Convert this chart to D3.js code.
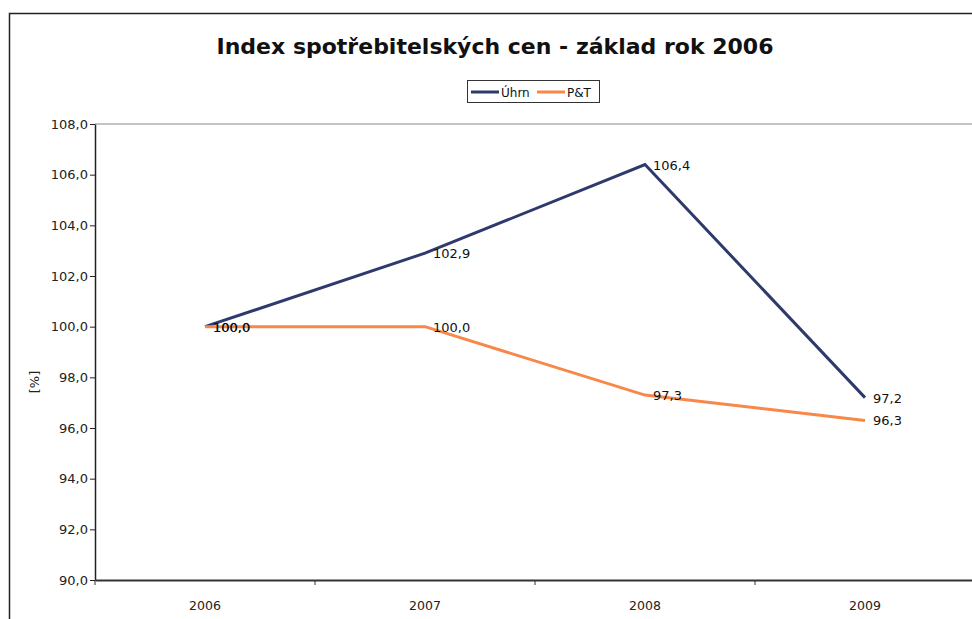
<!DOCTYPE html>
<html>
<head>
<meta charset="utf-8">
<script src="https://cdn.jsdelivr.net/npm/d3@7"></script>
<style>
html,body{margin:0;padding:0;background:#fff;}
svg{display:block;}
</style>
</head>
<body>
<svg id="chart" width="972" height="619"></svg>
<script>
const years = ["2006", "2007", "2008", "2009"];
const uhrn = [100.0, 102.9, 106.4, 97.2];
const pt = [100.0, 100.0, 97.3, 96.3];
const yTicks = [90, 92, 94, 96, 98, 100, 102, 104, 106, 108];
const seriesNames = ["Úhrn", "P&T"];
const seriesColors = ["#2f3a6c", "#f7884a"];

(function () {
const svg = d3.select("#chart");
const fmt = d3.formatLocale({decimal: ",", thousands: " ", grouping: [3], currency: ["", ""]}).format(".1f");
const font = "'DejaVu Sans', Verdana, sans-serif";

// outer chart border (cropped scan)
svg.append("path").attr("d", "M9.5,619 V13.5 H972").attr("fill", "none").attr("stroke", "#222").attr("stroke-width", 1.5);

const pLeft = 95, pTop = 124, pBottom = 580, pRight = 975;
const x = d3.scaleBand().domain(years).range([pLeft, pRight]);
const y = d3.scaleLinear().domain([90, 108]).range([pBottom, pTop]);

// top border of plot area
svg.append("line").attr("x1", pLeft).attr("x2", 972).attr("y1", y(108)).attr("y2", y(108))
  .attr("stroke", "#888").attr("stroke-width", 1);

// title
svg.append("text").attr("x", 495).attr("y", 54).attr("text-anchor", "middle")
  .attr("font-family", font).attr("font-weight", "bold").attr("font-size", 22).attr("fill", "#111")
  .text("Index spotřebitelských cen - základ rok 2006");

// y axis
const yAxis = svg.append("g").attr("transform", `translate(${pLeft},0)`)
  .call(d3.axisLeft(y).tickValues(yTicks).tickFormat(fmt).tickSize(5).tickSizeOuter(0));
yAxis.select(".domain").attr("stroke", "#222").attr("stroke-width", 1.5);
yAxis.selectAll(".tick line").attr("stroke", "#222");
yAxis.selectAll("text").attr("font-family", font).attr("font-size", 13).attr("fill", "#222").attr("x", -7);

// x axis
const xAxis = svg.append("g").attr("transform", `translate(0,${pBottom})`)
  .call(d3.axisBottom(x).tickSize(0).tickSizeOuter(0));
xAxis.select(".domain").attr("stroke", "#333").attr("stroke-width", 2);
xAxis.selectAll("text").attr("font-family", font).attr("font-size", 12.5).attr("fill", "#222").attr("dy", "0").attr("y", 30);
// category boundary ticks
svg.append("g").selectAll("line").data(years).join("line")
  .attr("x1", d => x(d)).attr("x2", d => x(d)).attr("y1", pBottom).attr("y2", pBottom + 5)
  .attr("stroke", "#333");

// y axis title
svg.append("text").attr("transform", "translate(39,382) rotate(-90)").attr("text-anchor", "middle")
  .attr("font-family", font).attr("font-size", 13).attr("fill", "#222").text("[%]");

const line = d3.line().x((d, i) => x(years[i]) + x.bandwidth() / 2).y(d => y(d));
const allSeries = [uhrn, pt];

allSeries.forEach((s, k) => {
  svg.append("path").datum(s).attr("d", line).attr("fill", "none")
    .attr("stroke", seriesColors[k]).attr("stroke-width", 3).attr("stroke-linejoin", "miter");
});

allSeries.forEach((s, k) => {
  svg.append("g").selectAll("text").data(s).join("text")
    .attr("x", (d, i) => x(years[i]) + x.bandwidth() / 2 + 8)
    .attr("y", d => y(d) + 5)
    .attr("font-family", font).attr("font-size", 13).attr("fill", "#111")
    .text(d => fmt(d));
});

// legend
const lg = svg.append("g");
lg.append("rect").attr("x", 467.5).attr("y", 80.5).attr("width", 132).attr("height", 22)
  .attr("fill", "#fff").attr("stroke", "#333").attr("stroke-width", 1);
const legX = [471, 537];
seriesNames.forEach((n, k) => {
  lg.append("line").attr("x1", legX[k]).attr("x2", legX[k] + 28).attr("y1", 92).attr("y2", 92)
    .attr("stroke", seriesColors[k]).attr("stroke-width", 3);
  lg.append("text").attr("x", legX[k] + 30).attr("y", 96.5).attr("font-family", font)
    .attr("font-size", 12).attr("fill", "#111").text(n);
});
})();
</script>
</body>
</html>
